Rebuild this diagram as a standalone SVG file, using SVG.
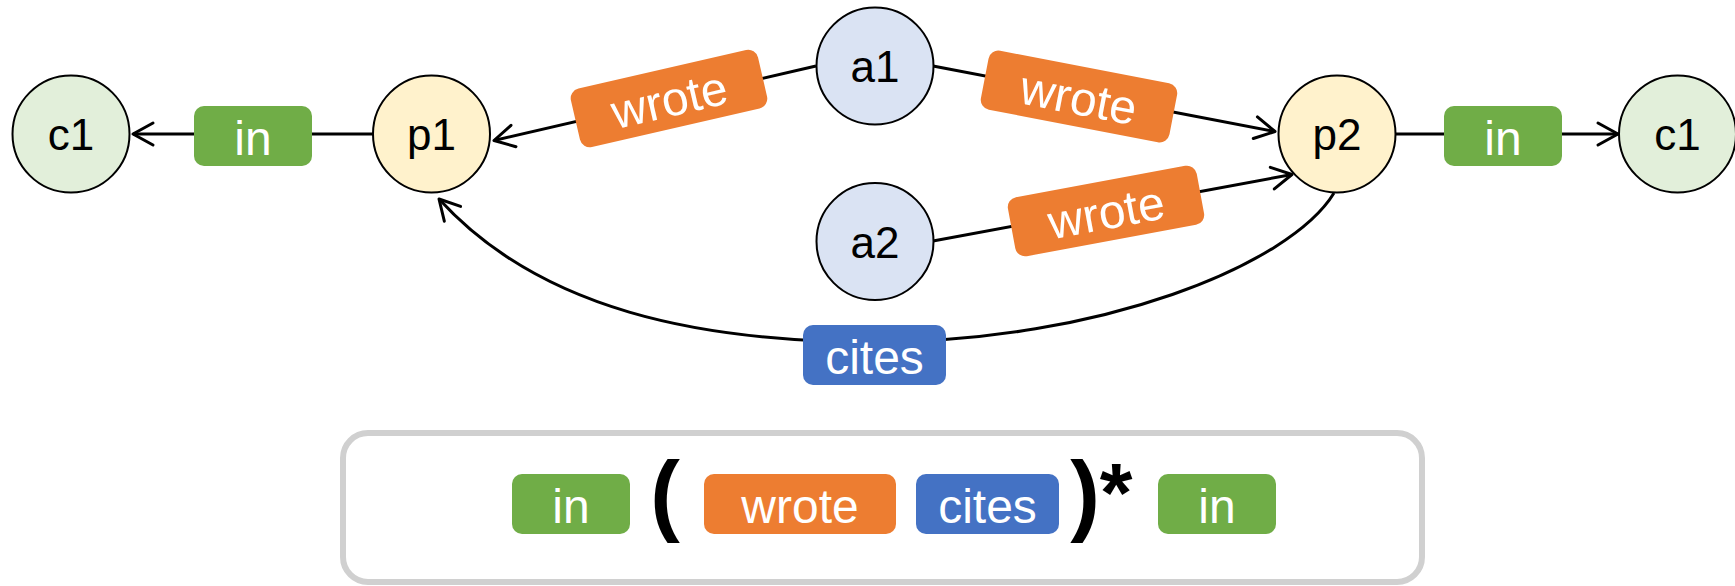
<svg xmlns="http://www.w3.org/2000/svg" width="1735" height="586" viewBox="0 0 1735 586">
  <defs>
    <marker id="arrow" markerUnits="userSpaceOnUse" markerWidth="40" markerHeight="40" viewBox="-30 -20 40 40" refX="0" refY="0" orient="auto" overflow="visible">
      <path d="M-20,-11 L0,0 L-20,11" fill="none" stroke="#000" stroke-width="3" stroke-linejoin="round" stroke-linecap="round"/>
    </marker>
  </defs>
  <style>
    text { font-family: "Liberation Sans", Arial, Helvetica, sans-serif; text-anchor: middle; }
    .node circle { stroke: #000; stroke-width: 2; }
    .node text { font-size: 44px; fill: #000; }
    .paper circle { fill: #fff2cc; }
    .author circle { fill: #dae3f3; }
    .conf circle { fill: #e2efda; }
    .edge { fill: none; stroke: #000; stroke-width: 3; }
    .arrowed { marker-end: url(#arrow); }
    .lbl text { font-size: 48px; fill: #fff; }
    .in rect { fill: #70ad47; }
    .wrote rect { fill: #ed7d31; }
    .cites rect { fill: #4472c4; }
    .paren { font-size: 89px; font-weight: bold; fill: #000; }
    .star { font-size: 84px; font-weight: bold; fill: #000; }
  </style>

  <rect width="1735" height="586" fill="#fff"/>

  <!-- connectors -->
  <g id="connectors">
    <path class="edge arrowed" d="M373,134 L133,134"/>
    <path class="edge arrowed" d="M816,66 L494,140.5"/>
    <path class="edge arrowed" d="M933,66 L1275,131.5"/>
    <path class="edge arrowed" d="M933,241 L1292,174.5"/>
    <path class="edge arrowed" d="M1396,134 L1618,134"/>
    <path class="edge arrowed" d="M1334,193 C1290,265 1100,342 875,342 C700,342 540,310 439,199"/>

    <g id="label-p1-in" class="lbl in"><rect x="194" y="106" width="118" height="60" rx="10"/><text x="253" y="155">in</text></g>
    <g id="label-a1-p1" class="lbl wrote" transform="translate(669,98.5) rotate(-13)"><rect x="-96" y="-30" width="192" height="60" rx="10"/><text x="0" y="18">wrote</text></g>
    <g id="label-a1-p2" class="lbl wrote" transform="translate(1079,96.5) rotate(10.9)"><rect x="-96" y="-30" width="192" height="60" rx="10"/><text x="0" y="18">wrote</text></g>
    <g id="label-a2-p2" class="lbl wrote" transform="translate(1106,211) rotate(-10.5)"><rect x="-96" y="-30" width="192" height="60" rx="10"/><text x="0" y="18">wrote</text></g>
    <g id="label-p2-in" class="lbl in"><rect x="1444" y="106" width="118" height="60" rx="10"/><text x="1503" y="155">in</text></g>
    <g id="label-cites" class="lbl cites"><rect x="803" y="325" width="143" height="60" rx="10"/><text x="874.5" y="374">cites</text></g>
  </g>

  <!-- nodes -->
  <g id="node-c1-left" class="node conf"><circle cx="71" cy="134" r="58.5"/><text x="71" y="150">c1</text></g>
  <g id="node-p1" class="node paper"><circle cx="431.5" cy="134" r="58.5"/><text x="431.5" y="150">p1</text></g>
  <g id="node-a1" class="node author"><circle cx="875" cy="66" r="58.5"/><text x="875" y="82">a1</text></g>
  <g id="node-a2" class="node author"><circle cx="875" cy="241.5" r="58.5"/><text x="875" y="257.5">a2</text></g>
  <g id="node-p2" class="node paper"><circle cx="1337" cy="134" r="58.5"/><text x="1337" y="150">p2</text></g>
  <g id="node-c1-right" class="node conf"><circle cx="1677.5" cy="134" r="58.5"/><text x="1677.5" y="150">c1</text></g>

  <!-- path pattern -->
  <g id="pattern">
    <rect x="343" y="433" width="1079" height="149" rx="25" fill="#fff" stroke="#d0d0d0" stroke-width="6"/>
    <g class="lbl in"><rect x="512" y="474" width="118" height="60" rx="10"/><text x="571" y="523">in</text></g>
    <text class="paren" x="665" y="524">(</text>
    <g class="lbl wrote"><rect x="704" y="474" width="192" height="60" rx="10"/><text x="800" y="523">wrote</text></g>
    <g class="lbl cites"><rect x="916" y="474" width="143" height="60" rx="10"/><text x="987.5" y="523">cites</text></g>
    <text class="paren" x="1085" y="524">)</text>
    <text class="star" x="1116" y="522">*</text>
    <g class="lbl in"><rect x="1158" y="474" width="118" height="60" rx="10"/><text x="1217" y="523">in</text></g>
  </g>
</svg>
